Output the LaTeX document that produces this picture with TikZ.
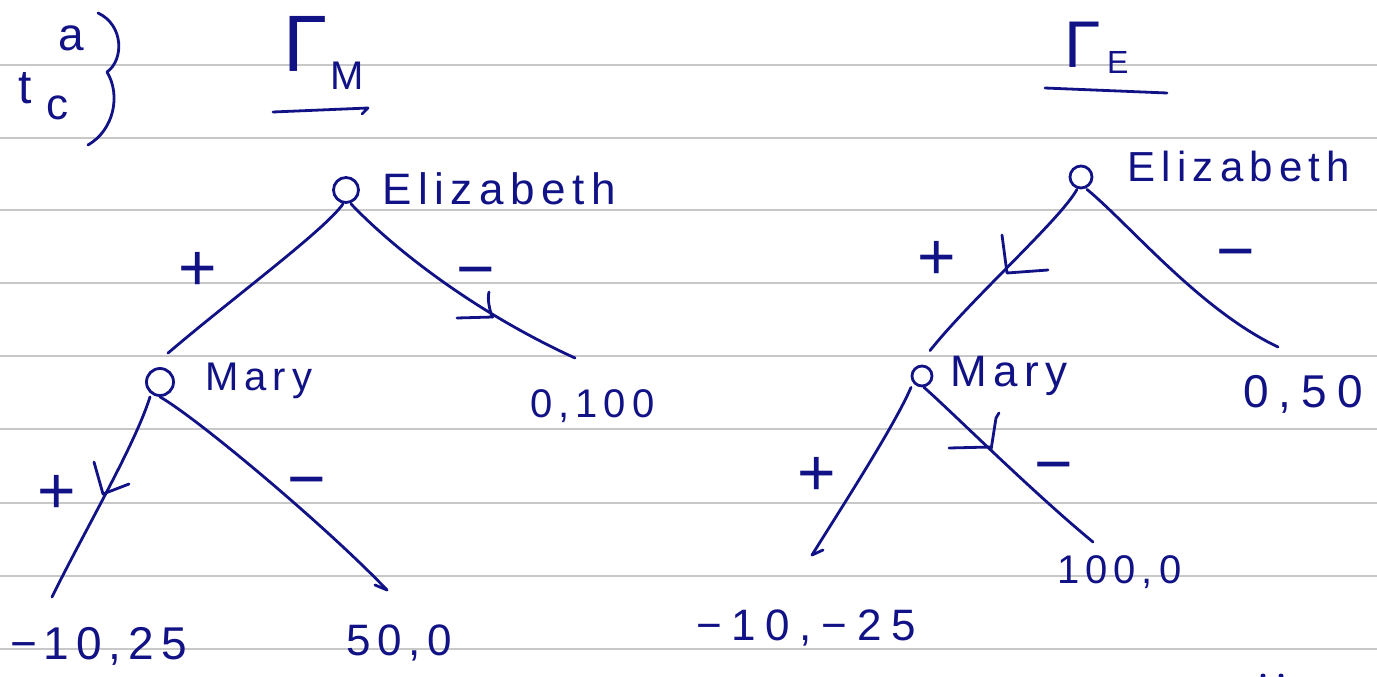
\documentclass[tikz,border=0pt]{standalone}
\usepackage{fontspec}
\setmainfont{Liberation Sans}
\newfontfamily\hw[LetterSpace=15]{Liberation Sans}
\newfontfamily\hwx[LetterSpace=22]{Liberation Sans}
\newcommand\fsz[1]{\fontsize{#1}{#1}\selectfont}
\definecolor{ink}{RGB}{18,18,135}
\definecolor{ruleg}{RGB}{200,200,200}
\begin{document}
\begin{tikzpicture}[x=1pt,y=-1pt,
 pen/.style={draw=ink, line width=2.8pt, line cap=round, line join=round},
 rulel/.style={draw=ruleg, line width=2pt},
 circ/.style={circle, draw=ink, line width=2.8pt, inner sep=0pt},
 lbl/.style={text=ink, inner sep=0pt, anchor=base west},
 sgn/.style={text=ink, inner sep=0pt, anchor=base, font=\fsz{66}}]
\useasboundingbox (0,0) rectangle (1377,677);
\fill[white] (0,0) rectangle (1377,677);
\foreach \yy in {65,138,210,283,356,429,503,576,649} \draw[rulel] (0,\yy) -- (1377,\yy);

% ---- header: a) t c ----
\node[lbl, font=\fsz{46}] (qa) at (58,51) {a};
\node[lbl, font=\fsz{48}] (qt) at (18,103) {t};
\node[lbl, font=\fsz{44}] (qc) at (46,120) {c};
\draw[pen] (98,13) .. controls (124,25) and (124,60) .. (107,72)
                   .. controls (121,95) and (114,130) .. (88,145);

% ---- titles ----
\node[lbl, font=\fsz{80}] (gm) at (283,72) {Γ};
\node[lbl, font=\fsz{40}] (gmsub) at (330,90) {M};
\coordinate (um1) at (273,112);
\coordinate (um2) at (368,108);
\draw[pen] (um1) -- (um2) -- ++(-6,6);
\node[lbl, font=\fsz{66}] (ge) at (1064,68) {Γ};
\node[lbl, font=\fsz{32}] (gesub) at (1107,74) {E};
\coordinate (ue1) at (1045,88);
\coordinate (ue2) at (1167,93);
\draw[pen] (ue1) -- (ue2);

% ---- left tree: Gamma_M ----
\node[circ, minimum size=25pt] (e1) at (346,190) {};
\node[lbl, font=\hw\fsz{44}] (e1l) at (382,204) {Elizabeth};
\node[circ, minimum size=27pt] (m1) at (160,382) {};
\node[lbl, font=\hw\fsz{40}] (m1l) at (205,390) {Mary};
\coordinate (t1) at (575,358);
\coordinate (t2) at (52,597);
\coordinate (t3) at (387,590);
\node[lbl, font=\hw\fsz{40}] (p1) at (530,417) {0,100};
\node[lbl, font=\hw\fsz{46}] (p2) at (10,659) {−10,25};
\node[lbl, font=\hw\fsz{44}] (p3) at (346,655) {50,0};

\draw[pen] ([xshift=-3pt]e1.south) .. controls (325,230) and (230,300) .. ([shift={(8pt,14pt)}]m1.north);
\draw[pen] ([xshift=5pt]e1.south) .. controls (390,245) and (470,310) .. (t1);
\draw[pen] ([xshift=-10pt]m1.south) .. controls (135,445) and (85,530) .. (t2);
\draw[pen] (m1.south) .. controls (200,420) and (330,530) .. (t3);
\draw[pen] (375,585) -- (t3);
% chosen-action marks
\draw[pen] (489,292) .. controls (487,300) and (490,310) .. (492,317);
\draw[pen] (457,318) -- (493,317);
\draw[pen] (94,462) -- (103,494) -- (129,484);
% action labels
\node[sgn] (l1) at (198,290) {+};
\node[sgn] (l2) at (476,291) {−};
\node[sgn] (l3) at (57,513) {+};
\node[sgn] (l4) at (307,501) {−};

% ---- right tree: Gamma_E ----
\node[circ, minimum size=22pt] (e2) at (1081,177) {};
\node[lbl, font=\hw\fsz{42}] (e2l) at (1127,181) {Elizabeth};
\node[circ, minimum size=20pt] (m2) at (922,376) {};
\node[lbl, font=\hw\fsz{44}] (m2l) at (950,386) {Mary};
\coordinate (t4) at (1278,347);
\coordinate (t5) at (812,555);
\coordinate (t6) at (1093,542);
\node[lbl, font=\hwx\fsz{46}] (p4) at (1243,407) {0,50};
\node[lbl, font=\hw\fsz{40}] (p5) at (1057,583) {100,0};
\node[lbl, font=\hwx\fsz{44}] (p6) at (696,640) {−10,−25};

\draw[pen] ([xshift=-4pt]e2.south) .. controls (1060,220) and (970,300) .. ([shift={(8pt,14pt)}]m2.north);
\draw[pen] ([xshift=6pt]e2.south) .. controls (1130,225) and (1200,310) .. (t4);
\draw[pen] ([xshift=-11pt]m2.south) .. controls (895,425) and (840,510) .. (t5);
\draw[pen] (t5) -- ++(11,-5);
\draw[pen] ([xshift=2pt]m2.south) .. controls (950,410) and (1030,490) .. (t6);
% chosen-action marks
\draw[pen] (1002,235) -- (1007,273) -- (1048,270);
\draw[pen] (999,413) -- (996,418) -- (991,450);
\draw[pen] (949,448) -- (991,447);
% action labels
\node[sgn] (r1) at (937,279) {+};
\node[sgn] (r2) at (1236,273) {−};
\node[sgn] (r3) at (817,495) {+};
\node[sgn] (r4) at (1054,486) {−};

% tiny marks at the bottom edge
\fill[ink] (1263,676) circle (2.5);
\fill[ink] (1281,676) circle (2.5);
\end{tikzpicture}
\end{document}
